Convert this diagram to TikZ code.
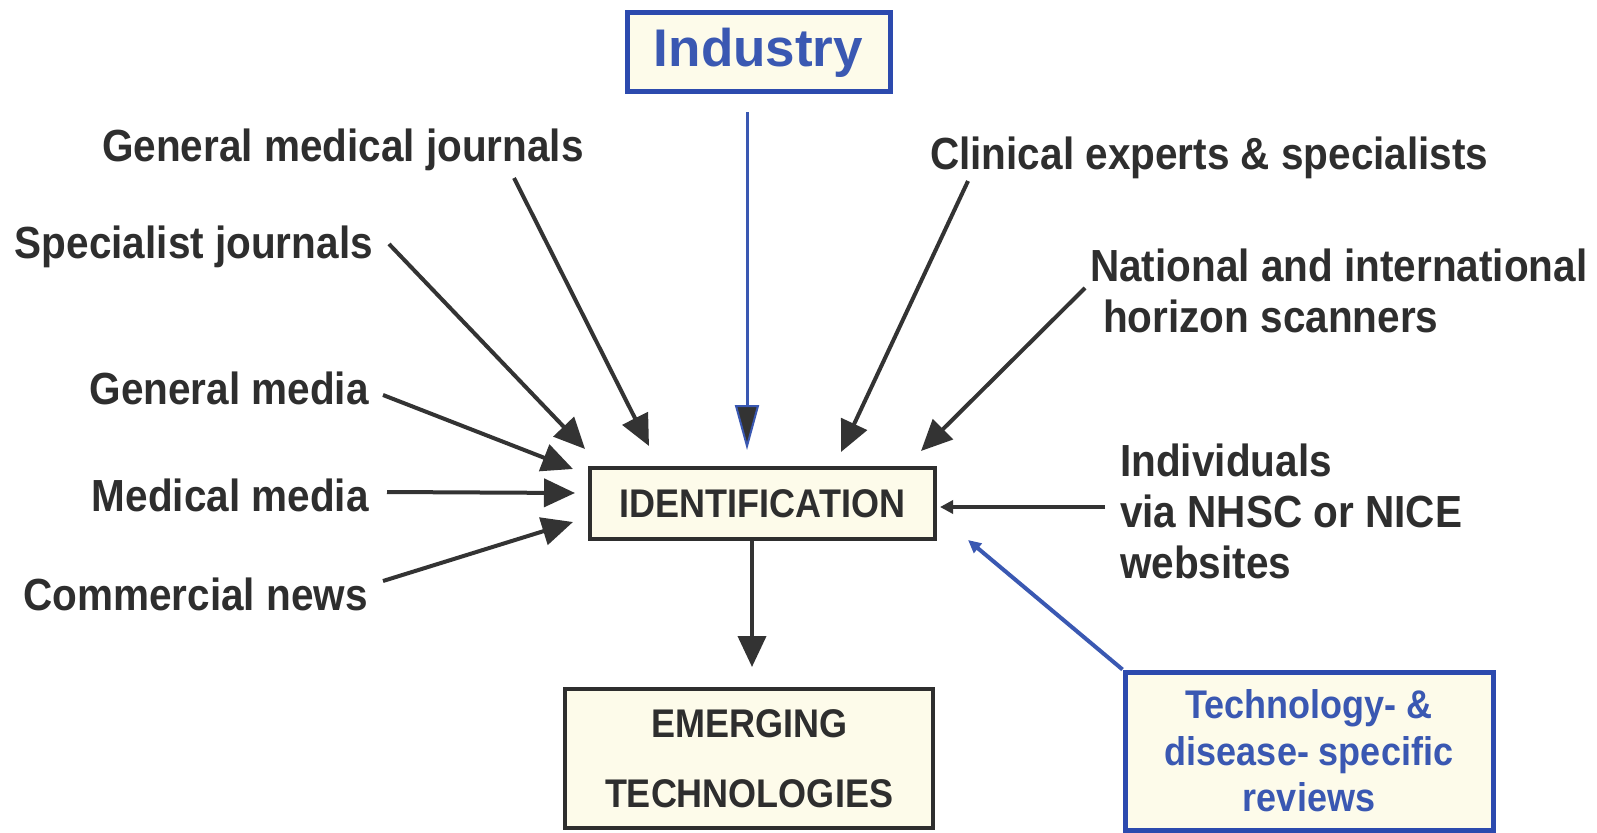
\documentclass[tikz,border=0pt]{standalone}
\usepackage{fontspec}
\setmainfont[FakeStretch=0.9]{Liberation Sans}
\newfontfamily\indfont{Liberation Sans}
\usetikzlibrary{arrows.meta}
\definecolor{txt}{HTML}{2E2E2E}
\definecolor{cream}{HTML}{FDFBEA}
\definecolor{bluetxt}{HTML}{3A58B2}
\definecolor{blueline}{HTML}{2C4AAE}
\definecolor{arrc}{HTML}{333333}
\tikzset{
  lab/.style={font=\fontsize{45}{51}\selectfont\bfseries, text=txt, inner sep=0pt},
  boxk/.style={draw=txt, line width=4pt, fill=cream, inner sep=0pt, text=txt},
  boxb/.style={draw=blueline, line width=5pt, fill=cream, inner sep=0pt, text=bluetxt},
  arr/.style={line width=4pt, draw=arrc, -{Triangle[length=31pt,width=28pt]}},
  arrs/.style={line width=3.5pt, draw=arrc, -{Triangle[length=13pt,width=13pt]}},
  arrblue/.style={line width=4pt, draw=bluetxt, -{Triangle[length=13pt,width=12pt]}},
  arrind/.style={line width=3pt, draw=bluetxt, -{Triangle[length=45pt,width=24pt,fill=arrc,line width=2pt]}}
}
\begin{document}
\begin{tikzpicture}[x=1pt,y=-1pt]
\useasboundingbox[fill=white] (0,0) rectangle (1597,832);
% boxes
\node[boxb, minimum width=263, minimum height=79, font=\indfont\fontsize{53}{60}\selectfont\bfseries] (ind) at (758.5,52.5) {Industry};
\node[boxk, minimum width=345, minimum height=71, font=\fontsize{40}{46}\selectfont\bfseries] (id) at (762.5,503.5) {IDENTIFICATION};
\node[boxk, minimum width=368, minimum height=139, align=center, font=\fontsize{40}{70}\selectfont\bfseries] (em) at (749,758.5) {EMERGING\\TECHNOLOGIES};
\node[boxb, minimum width=368, minimum height=158, align=center, font=\fontsize{40}{46.5}\selectfont\bfseries] (tr) at (1309,751) {Technology- \&\\disease- specific\\reviews};
% labels
\node[lab, anchor=base east] (gmj) at (584,161) {General medical journals};
\node[lab, anchor=base east] (sj) at (373,258) {Specialist journals};
\node[lab, anchor=base east] (gm) at (369,404) {General media};
\node[lab, anchor=base east] (mm) at (369,511) {Medical media};
\node[lab, anchor=base east] (cn) at (368,610) {Commercial news};
\node[lab, anchor=base west] (ce) at (930,169) {Clinical experts \& specialists};
\node[lab, anchor=west, align=left] (nat) at (1090,290.5) {National and international\\\hspace*{13pt}horizon scanners};
\node[lab, anchor=west, align=left] (indv) at (1120,511.5) {Individuals\\via NHSC or NICE\\websites};
% connectors
\draw[arrind] ([shift={(-11.5,18)}]ind.south) -- ([shift={(-15.5,-16)}]id.north);
\draw[arr] ([shift={(-70,17)}]gmj.base east) -- ([shift={(61,-20)}]id.north west);
\draw[arr] ([shift={(16,-14)}]sj.base east) -- ([shift={(-3,-17)}]id.north west);
\draw[arr] ([shift={(14,-9)}]gm.base east) -- ([shift={(-15,3)}]id.north west);
\draw[arr] ([shift={(18,-19)}]mm.base east) -- ([shift={(-13,-10.5)}]id.west);
\draw[arr] ([shift={(15,-29)}]cn.base east) -- ([shift={(-15,-19)}]id.south west);
\draw[arr] ([shift={(38,12)}]ce.base west) -- ([shift={(253,-14)}]id.north west);
\draw[arr] ([shift={(-5,-2.5)}]nat.west) -- ([shift={(-16,-15)}]id.north east);
\draw[arrs] ([shift={(-15,-4.5)}]indv.west) -- ([shift={(3,3.5)}]id.east);
\draw[arr] ([shift={(-10.5,0)}]id.south) -- ([shift={(3,-20)}]em.north);
\draw[arrblue] (tr.north west) -- ([shift={(31,-1)}]id.south east);
\end{tikzpicture}
\end{document}
